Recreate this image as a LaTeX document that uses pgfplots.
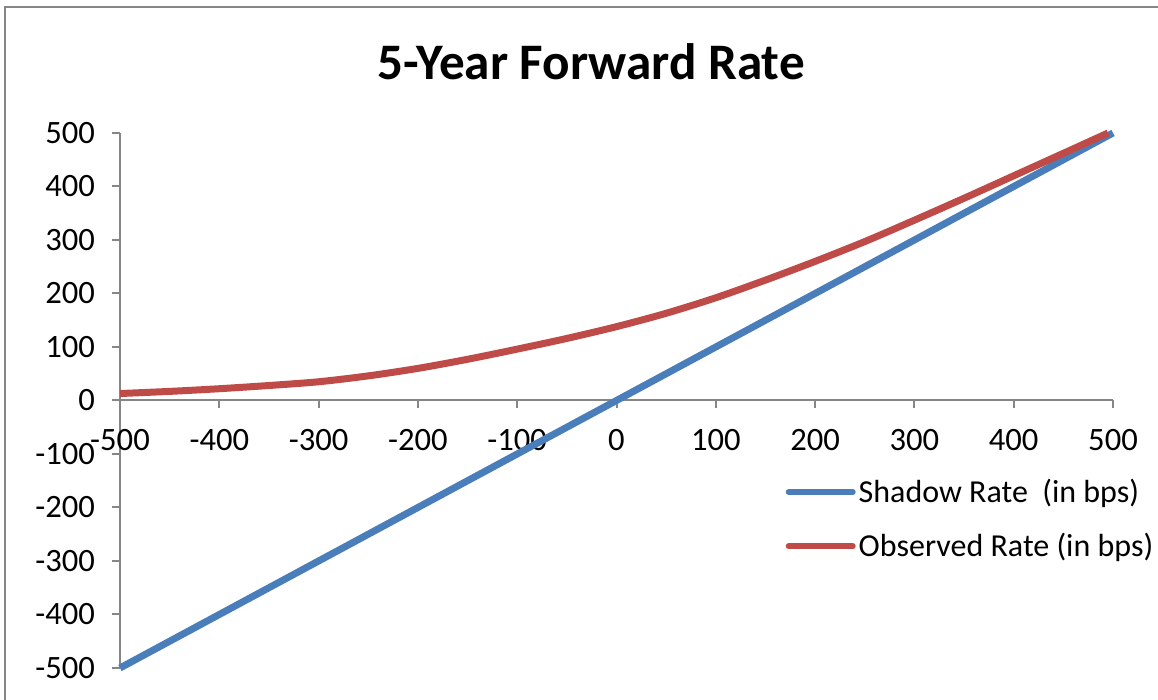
\documentclass[border=0pt]{standalone}
\usepackage{pgfplots}
\pgfplotsset{compat=1.18}
\usepackage{fontspec}
\setmainfont{Carlito}
\definecolor{shadowblue}{HTML}{4A7EBB}
\definecolor{obsred}{HTML}{BE4B48}
\definecolor{axgray}{HTML}{868686}
\begin{document}
\begin{tikzpicture}
\useasboundingbox (0,0) rectangle (579pt,350pt);
\draw[axgray, line width=1.2pt] (2.5pt,-5pt) -- (2.5pt,346.5pt) -- (585pt,346.5pt);
\node[font=\bfseries\fontsize{25.6}{30}\selectfont] at (295.5pt,319pt) {5-Year Forward Rate};
\begin{axis}[
  at={(60pt,16pt)}, anchor=south west,
  scale only axis,
  width=496.5pt, height=267.5pt,
  xmin=-500, xmax=500, ymin=-500, ymax=500,
  axis x line=middle, axis y line=left,
  axis line style={-, axgray, line width=1pt},
  xtick={-500,-400,...,500}, ytick={-500,-400,...,500},
  hide obscured x ticks=false, hide obscured y ticks=false,
  tick align=outside, major tick length=4pt,
  tick style={axgray, line width=1pt},
  /pgf/number format/assume math mode=true,
  ticklabel style={font=\fontsize{16.3}{18}\selectfont},
  xticklabel style={anchor=north, yshift=-7pt},
  yticklabel style={anchor=east, xshift=-5pt},
  clip=false,
  legend style={draw=none, fill=none, at={(0.67,0.36)}, anchor=north west,
    font=\fontsize{16}{18}\selectfont, row sep=11pt, inner sep=0pt,
    nodes={inner sep=1.5pt}},
  legend cell align=left,
  legend image code/.code={\draw[#1, line width=3pt, line cap=round] (0pt,0pt) -- (32pt,0pt);},
]
\addplot[shadowblue, line width=3.5pt] coordinates {(-500,-500) (0,0) (500,500)};
\addlegendentry{Shadow Rate~ (in bps)}
\addplot[obsred, line width=3.5pt, smooth] coordinates {
(-500,13) (-450,17) (-400,22) (-350,28) (-300,35) (-250,46) (-200,60) (-150,77)
(-100,96) (-50,116) (0,138) (50,163) (100,192) (150,225) (200,260) (250,297)
(300,337) (350,378) (400,420) (450,462) (495,500)};
\addlegendentry{Observed Rate (in bps)}
\end{axis}
\end{tikzpicture}
\end{document}
